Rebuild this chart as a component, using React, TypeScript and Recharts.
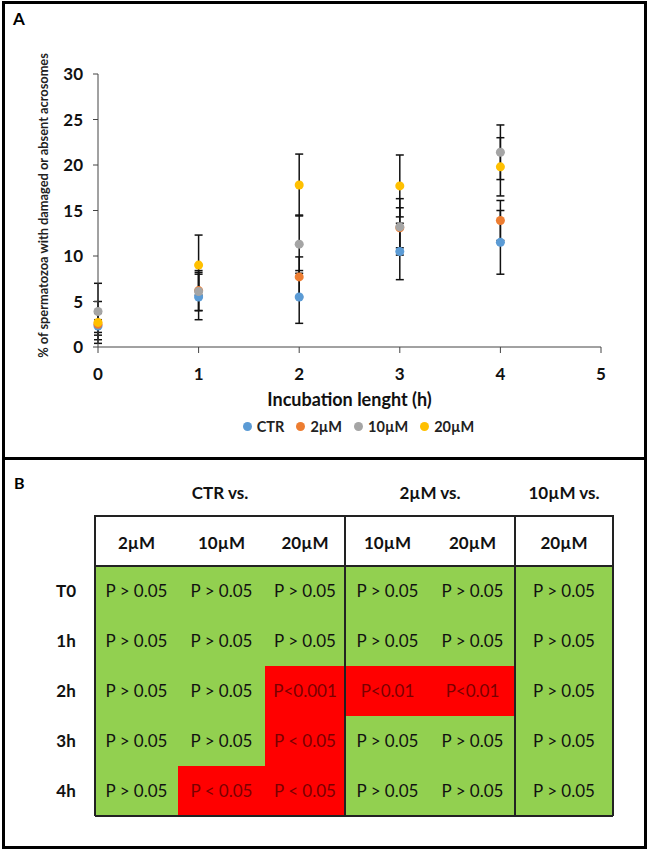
import React from 'react';
import {
  ScatterChart,
  Scatter,
  XAxis,
  YAxis,
  ZAxis,
  ErrorBar,
  Legend,
} from 'recharts';

// incubation time (h)
const hours = [0, 1, 2, 3, 4];

// mean % and error
const ctrMean = [2.3, 5.5, 5.5, 10.5, 11.5];
const ctrErr = [0.7, 2.5, 2.9, 3.1, 3.5];
const m2Mean = [2.5, 6.2, 7.7, 13.1, 13.9];
const m2Err = [1.2, 2.2, 2.2, 2.2, 2.2];
const m10Mean = [3.9, 6.1, 11.3, 13.2, 21.4];
const m10Err = [3.1, 2.1, 3.2, 3.1, 3.0];
const m20Mean = [2.7, 9.0, 17.8, 17.7, 19.8];
const m20Err = [2.3, 3.3, 3.4, 3.4, 3.2];

const xTicks = [0, 1, 2, 3, 4, 5];
const yTicks = [0, 5, 10, 15, 20, 25, 30];

// table B
const groupHeaders = ['CTR vs.', '2µM vs.', '10µM vs.'];
const groupSpans = [3, 2, 1];
const colHeaders = ['2µM', '10µM', '20µM', '10µM', '20µM', '20µM'];
const rowLabels = ['T0', '1h', '2h', '3h', '4h'];
const pValues = [
  ['P > 0.05', 'P > 0.05', 'P > 0.05', 'P > 0.05', 'P > 0.05', 'P > 0.05'],
  ['P > 0.05', 'P > 0.05', 'P > 0.05', 'P > 0.05', 'P > 0.05', 'P > 0.05'],
  ['P > 0.05', 'P > 0.05', 'P<0.001', 'P<0.01', 'P<0.01', 'P > 0.05'],
  ['P > 0.05', 'P > 0.05', 'P < 0.05', 'P > 0.05', 'P > 0.05', 'P > 0.05'],
  ['P > 0.05', 'P < 0.05', 'P < 0.05', 'P > 0.05', 'P > 0.05', 'P > 0.05'],
];

const series = [
  { name: 'CTR', mean: ctrMean, err: ctrErr, color: '#5B9BD5' },
  { name: '2µM', mean: m2Mean, err: m2Err, color: '#ED7D31' },
  { name: '10µM', mean: m10Mean, err: m10Err, color: '#A5A5A5' },
  { name: '20µM', mean: m20Mean, err: m20Err, color: '#FFC000' },
];

const colWidths = [83, 87, 80, 85, 85, 98];
const tableLeft = 95;
const headTop = 516;
const rowH = 50;

const FONT = 'Lato, "Open Sans", sans-serif';

const YLabel = (props: any) => {
  const vb = props.viewBox || {};
  const cx = 43;
  const cy = vb.y + vb.height / 2 - 5;
  return (
    <text
      x={cx}
      y={cy}
      transform={`rotate(-90 ${cx} ${cy})`}
      textAnchor="middle"
      dominantBaseline="central"
      fontSize={12.8}
      fontWeight={700}
      fill="#222"
    >
      % of spermatozoa with damaged or absent acrosomes
    </text>
  );
};

const LegendBox = () => (
  <div style={{ display: 'flex', justifyContent: 'center', gap: 12, paddingLeft: 116, fontSize: 14.5, fontWeight: 700, color: '#222' }}>
    {series.map((s) => (
      <span key={s.name} style={{ display: 'inline-flex', alignItems: 'center' }}>
        <span style={{ width: 9, height: 9, borderRadius: '50%', background: s.color, marginRight: 5, display: 'inline-block' }} />
        {s.name}
      </span>
    ))}
  </div>
);

const Table = () => {
  const lefts: number[] = [];
  let acc = tableLeft;
  colWidths.forEach((w) => {
    lefts.push(acc);
    acc += w;
  });
  const right = acc;
  const bodyTop = headTop + rowH;
  const bottom = bodyTop + rowH * rowLabels.length;
  const dividers = [lefts[3], lefts[5]];

  let gi = 0;
  const groupBoxes = groupSpans.map((span, i) => {
    const l = lefts[gi];
    const w = colWidths.slice(gi, gi + span).reduce((a, b) => a + b, 0);
    gi += span;
    return { l, w, label: groupHeaders[i] };
  });

  return (
    <div style={{ position: 'absolute', left: 0, top: 0 }}>
      {groupBoxes.map((g, i) => (
        <div
          key={'g' + i}
          style={{
            position: 'absolute',
            left: g.l,
            top: 482,
            width: g.w,
            textAlign: 'center',
            fontWeight: 700,
            fontSize: 17,
            color: '#111',
          }}
        >
          {g.label}
        </div>
      ))}
      {colHeaders.map((h, c) => (
        <div
          key={'h' + c}
          style={{
            position: 'absolute',
            left: lefts[c],
            top: headTop + 2,
            width: colWidths[c],
            height: rowH,
            lineHeight: rowH + 'px',
            textAlign: 'center',
            fontWeight: 700,
            fontSize: 17,
            color: '#111',
          }}
        >
          {h}
        </div>
      ))}
      {rowLabels.map((r, ri) => (
        <div
          key={'r' + ri}
          style={{
            position: 'absolute',
            left: 40,
            top: bodyTop + ri * rowH,
            width: 52,
            height: rowH,
            lineHeight: rowH + 'px',
            textAlign: 'center',
            fontWeight: 700,
            fontSize: 17,
            color: '#111',
          }}
        >
          {r}
        </div>
      ))}
      {pValues.map((row, ri) =>
        row.map((v, c) => {
          const sig = !v.includes('>');
          return (
            <div
              key={'c' + ri + '-' + c}
              style={{
                position: 'absolute',
                left: lefts[c],
                top: bodyTop + ri * rowH,
                width: colWidths[c],
                height: rowH,
                lineHeight: rowH + 'px',
                textAlign: 'center',
                fontSize: 17,
                background: sig ? '#FF0000' : '#92D050',
                color: sig ? '#7A0000' : '#111',
              }}
            >
              {v}
            </div>
          );
        })
      )}
      {/* grid lines */}
      <div style={{ position: 'absolute', left: tableLeft, top: headTop - 1, width: right - tableLeft, height: 2, background: '#222' }} />
      <div style={{ position: 'absolute', left: tableLeft, top: bodyTop - 1, width: right - tableLeft, height: 2, background: '#222' }} />
      <div style={{ position: 'absolute', left: tableLeft, top: bottom - 1, width: right - tableLeft, height: 2, background: '#222' }} />
      {[tableLeft, ...dividers, right].map((x, i) => (
        <div
          key={'v' + i}
          style={{ position: 'absolute', left: x - 1, top: headTop - 1, width: 1.5, height: bottom - headTop + 1, background: '#222' }}
        />
      ))}
    </div>
  );
};

export default function App() {
  return (
    <div
      style={{
        position: 'absolute',
        left: 0,
        top: 0,
        width: 649,
        height: 851,
        background: '#fff',
        fontFamily: FONT,
      }}
    >
      <div
        style={{
          position: 'absolute',
          left: 2,
          top: 1,
          width: 645,
          height: 848,
          boxSizing: 'border-box',
          border: '3px solid #000',
        }}
      />
      <div style={{ position: 'absolute', left: 2, top: 457, width: 645, height: 3, background: '#000' }} />
      <div style={{ position: 'absolute', left: 13, top: 8, fontWeight: 700, fontSize: 17 }}>A</div>
      <div style={{ position: 'absolute', left: 14, top: 473, fontWeight: 700, fontSize: 16 }}>B</div>

      <div style={{ position: 'absolute', left: 0, top: 0 }}>
        <ScatterChart
          width={649}
          height={457}
          margin={{ top: 74, right: 48, bottom: 22, left: 0 }}
        >
          <XAxis
            type="number"
            dataKey="x"
            domain={[0, 5]}
            ticks={xTicks}
            interval={0}
            height={71}
            tickSize={6}
            tickMargin={15}
            stroke="#444"
            tick={{ fill: '#111', fontSize: 17, fontWeight: 700 }}
            label={{
              value: 'Incubation lenght (h)',
              position: 'insideBottom',
              offset: 12,
              fill: '#111',
              fontSize: 18,
              fontWeight: 700,
            }}
          />
          <YAxis
            type="number"
            dataKey="y"
            domain={[0, 30]}
            ticks={yTicks}
            interval={0}
            width={98}
            tickSize={5}
            tickMargin={10}
            stroke="#444"
            tick={{ fill: '#111', fontSize: 17, fontWeight: 700 }}
            label={<YLabel />}
          />
          <ZAxis range={[60, 60]} />
          <Legend verticalAlign="bottom" align="center" content={<LegendBox />} />
          {series.map((s) => (
            <Scatter
              key={s.name}
              name={s.name}
              data={hours.map((h, i) => ({ x: h, y: s.mean[i], err: s.err[i] }))}
              fill={s.color}
              legendType="circle"
              isAnimationActive={false}
            >
              <ErrorBar dataKey="err" direction="y" width={4} stroke="#111" strokeWidth={1.5} />
            </Scatter>
          ))}
        </ScatterChart>
      </div>

      <Table />
    </div>
  );
}
